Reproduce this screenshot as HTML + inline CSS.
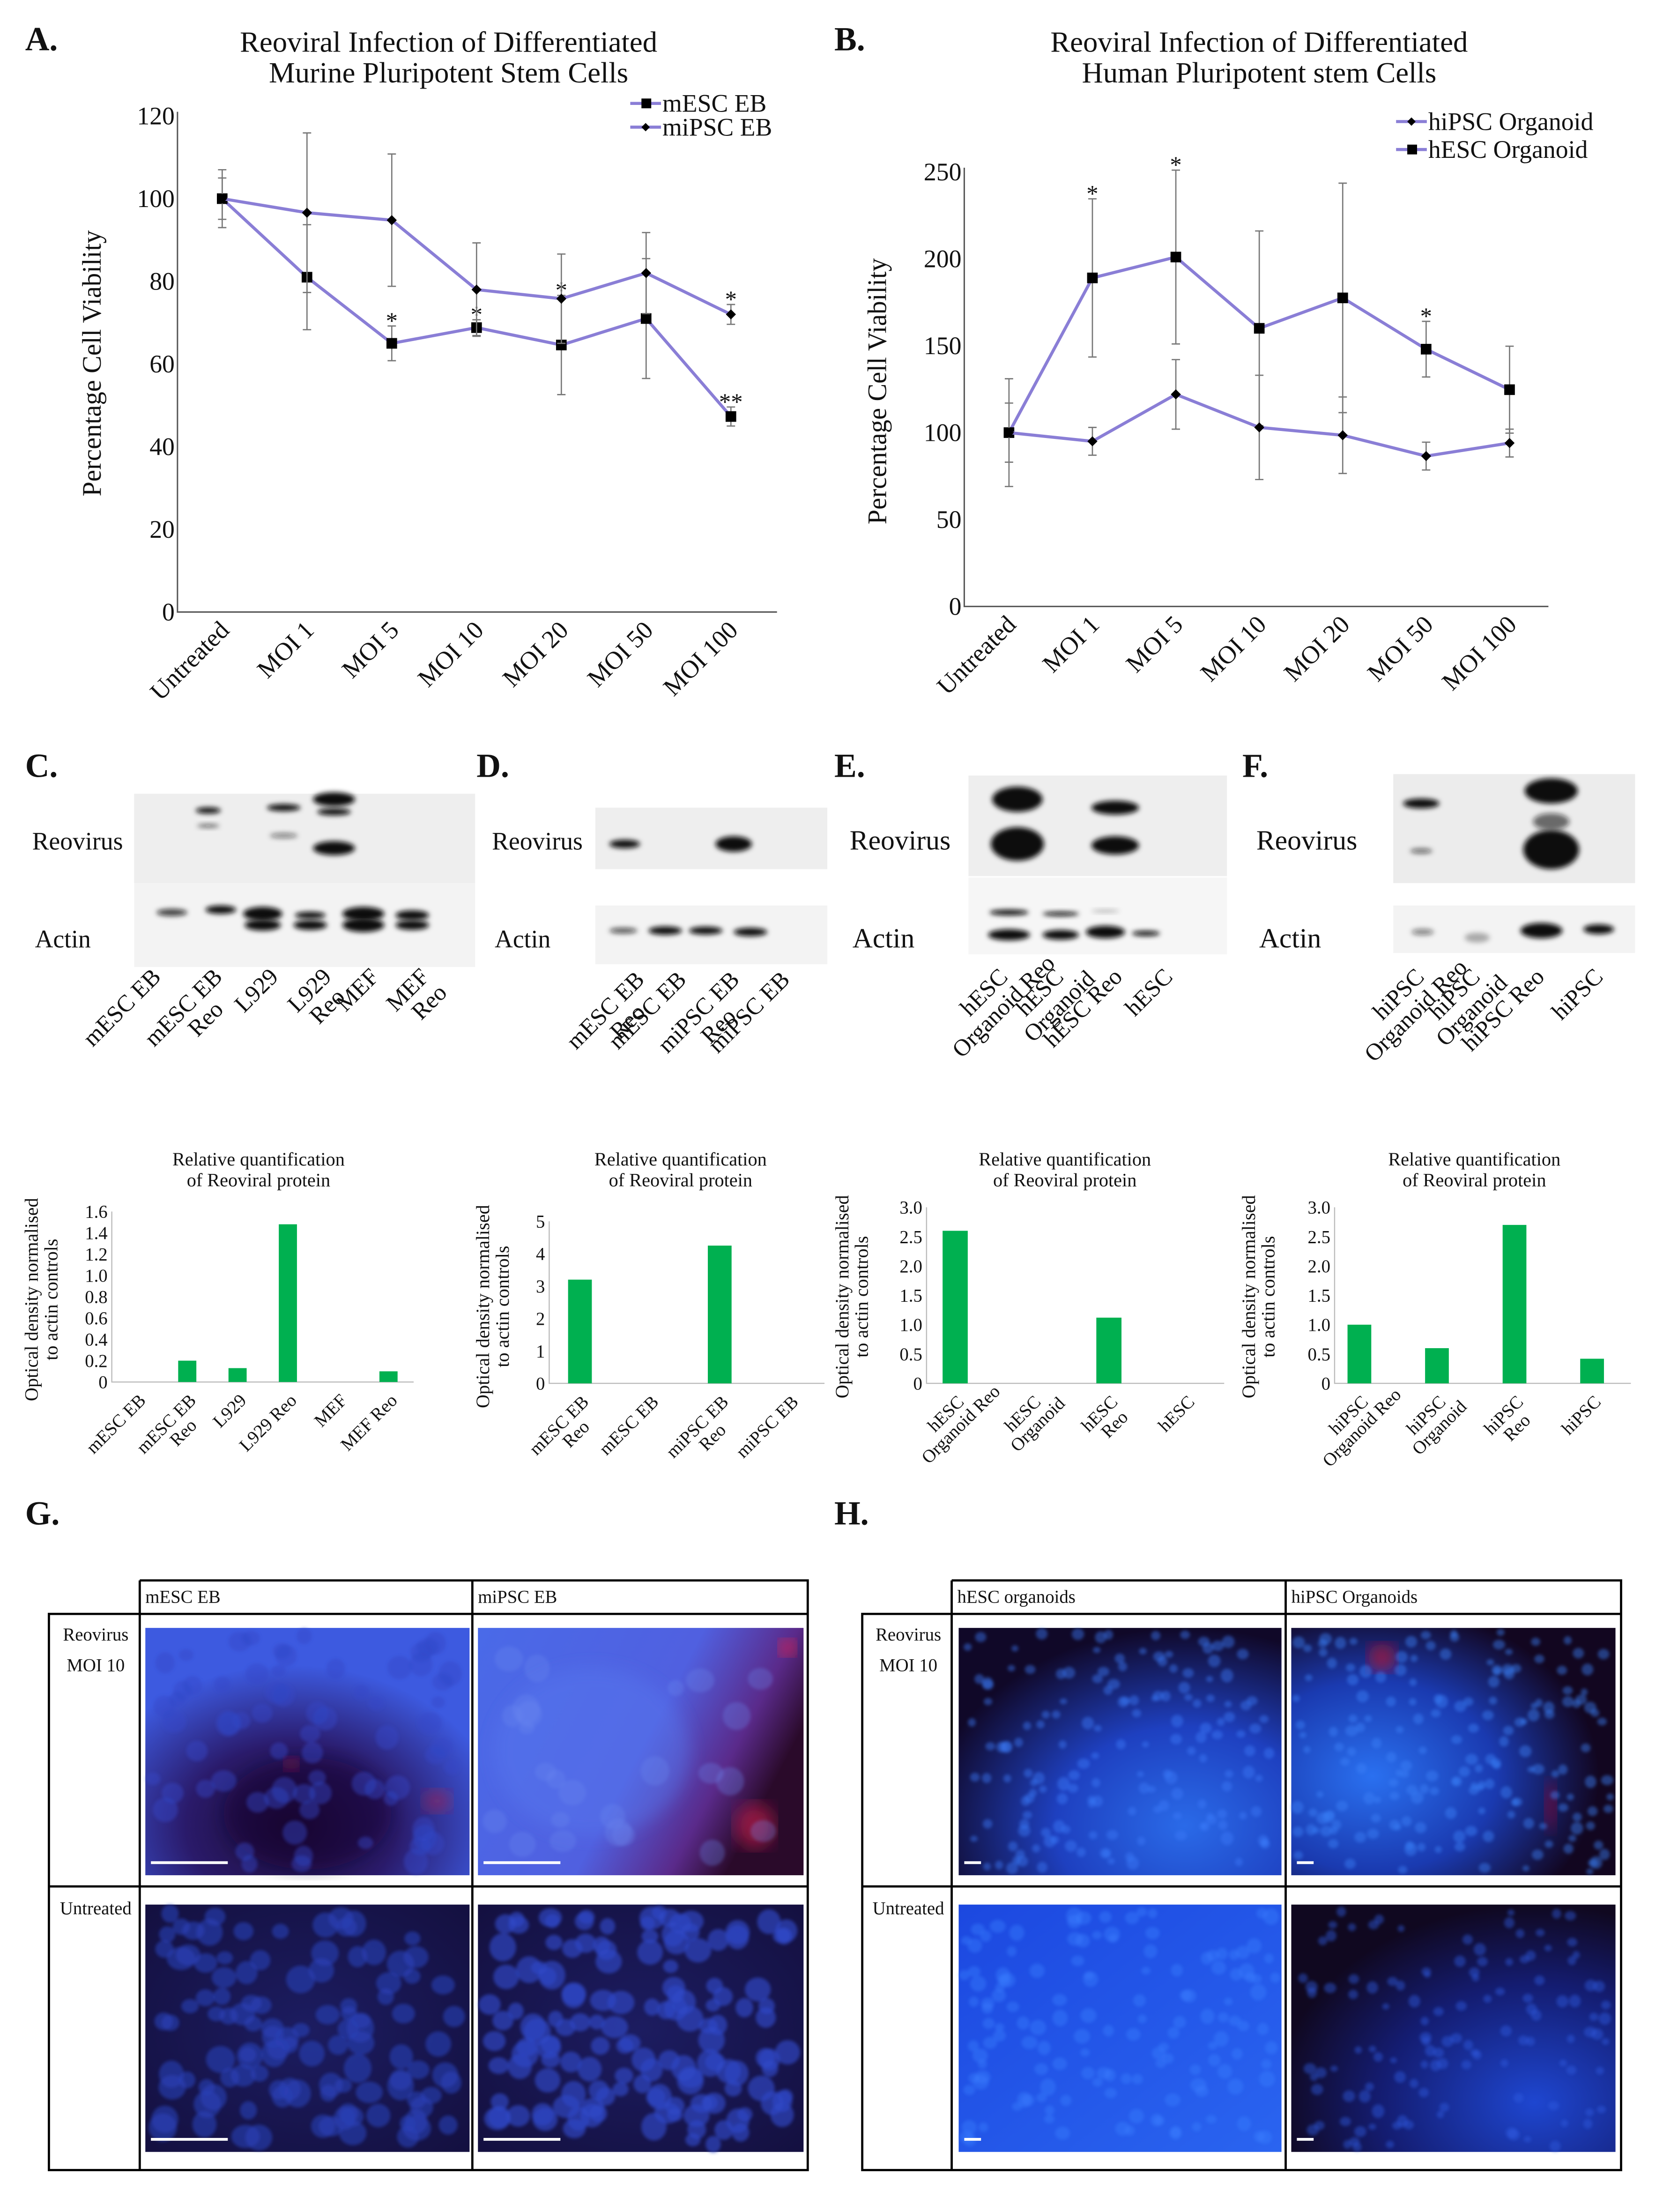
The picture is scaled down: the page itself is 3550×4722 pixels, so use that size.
<!DOCTYPE html>
<html><head><meta charset="utf-8"><style>
html,body{margin:0;padding:0;background:#fff}
svg{display:block}
text{font-family:"Liberation Serif",serif;fill:#111}
</style></head><body>
<svg id="fig" xmlns="http://www.w3.org/2000/svg" width="3550" height="4722" viewBox="0 0 1190 1583" preserveAspectRatio="none">
<defs>
<filter id="bl" x="-30%" y="-100%" width="160%" height="300%"><feGaussianBlur stdDeviation="1.8"/></filter>
<filter id="bl2"><feGaussianBlur stdDeviation="6"/></filter>
<filter id="bl3"><feGaussianBlur stdDeviation="1.2"/></filter>
<radialGradient id="g1" cx="0.45" cy="0.8" r="0.65"><stop offset="0" stop-color="#1a0a30"/><stop offset="0.5" stop-color="#2a1a6a"/><stop offset="1" stop-color="#3d5ae0"/></radialGradient>
<linearGradient id="g2" x1="0" y1="0" x2="1" y2="0.4"><stop offset="0" stop-color="#4a6ae8"/><stop offset="0.6" stop-color="#5060e0"/><stop offset="0.85" stop-color="#5a2a8a"/><stop offset="1" stop-color="#2a0a2a"/></linearGradient>
<radialGradient id="g3" cx="0.5" cy="0.5" r="0.7"><stop offset="0" stop-color="#1c1c60"/><stop offset="1" stop-color="#141040"/></radialGradient>
<radialGradient id="g4" cx="0.7" cy="0.8" r="0.8"><stop offset="0" stop-color="#2a6ae8"/><stop offset="0.5" stop-color="#1e40c0"/><stop offset="1" stop-color="#100828"/></radialGradient>
<radialGradient id="g5" cx="0.25" cy="0.6" r="0.7"><stop offset="0" stop-color="#2a70f0"/><stop offset="0.55" stop-color="#1a3ab0"/><stop offset="1" stop-color="#120620"/></radialGradient>
<linearGradient id="g6" x1="0" y1="0" x2="1" y2="1"><stop offset="0" stop-color="#1c48e0"/><stop offset="1" stop-color="#2a64f0"/></linearGradient>
<radialGradient id="g7" cx="0.75" cy="0.8" r="0.8"><stop offset="0" stop-color="#1e46d0"/><stop offset="0.6" stop-color="#141c70"/><stop offset="1" stop-color="#100820"/></radialGradient>
</defs>
<g id="root"></g>
</svg>
<script>
// ---------- data: panel A ----------
const catsA = ["Untreated","MOI 1","MOI 5","MOI 10","MOI 20","MOI 50","MOI 100"];
const mescVals = [100,81,65,68.8,64.6,71,47.3];
const mescErr = [7,12.7,4.2,1.9,12,14.5,2.3];
const mipscVals = [100,96.6,94.8,78,75.8,82,72];
const mipscErr = [5,19.3,16,11.3,10.8,9.8,2.4];
const mescStars = ["","","*","*","*","","**"];
const mipscStars = ["","","","","","","*"];
const yTicksA = [0,20,40,60,80,100,120];
// ---------- data: panel B ----------
const catsB = ["Untreated","MOI 1","MOI 5","MOI 10","MOI 20","MOI 50","MOI 100"];
const hescVals = [100,189,201,160,177.5,148,124.7];
const hescErr = [31,45.5,50,56,66,16,25];
const hipscVals = [100,95,122,103,98.5,86.5,94];
const hipscErr = [17,8,20,30,22,8,8];
const hescStars = ["","*","*","","","*",""];
const yTicksB = [0,50,100,150,200,250];
// ---------- data: bar charts ----------
const barCatsC = [["mESC EB"],["mESC EB","Reo"],["L929"],["L929 Reo"],["MEF"],["MEF Reo"]];
const barValsC = [0,0.2,0.13,1.48,0,0.1];
const barTicksC = ["0","0.2","0.4","0.6","0.8","1.0","1.2","1.4","1.6"];
const barCatsD = [["mESC EB","Reo"],["mESC EB"],["miPSC EB","Reo"],["miPSC EB"]];
const barValsD = [3.2,0,4.25,0];
const barTicksD = ["0","1","2","3","4","5"];
const barCatsE = [["hESC","Organoid Reo"],["hESC","Organoid"],["hESC","Reo"],["hESC"]];
const barValsE = [2.6,0,1.12,0];
const barTicksE = ["0","0.5","1.0","1.5","2.0","2.5","3.0"];
const barCatsF = [["hiPSC","Organoid Reo"],["hiPSC","Organoid"],["hiPSC","Reo"],["hiPSC"]];
const barValsF = [1.0,0.6,2.7,0.42];
const barTicksF = ["0","0.5","1.0","1.5","2.0","2.5","3.0"];

const NS="http://www.w3.org/2000/svg";
const root=document.getElementById('root');
function mk(tag,attrs,parent){const e=document.createElementNS(NS,tag);for(const k in attrs)e.setAttribute(k,attrs[k]);(parent||root).appendChild(e);return e;}
function txt(s,x,y,size,extra,parent){const t=mk('text',Object.assign({x:x,y:y,'font-size':size},extra||{}),parent);t.textContent=s;return t;}
// rotated multi-line label: first line ends at anchor, further lines centred under it
function rotLabel(lines,x,y,fs,lh,parent){
  const g=mk('g',{transform:`translate(${x} ${y}) rotate(-45)`},parent);
  
  
  const w0=lines[0].length*fs*0.5;
  lines.forEach((s,k)=>{
    if(k===0) txt(s,0,0,fs,{'text-anchor':'end'},g);
    else txt(s,-w0/2,k*lh,fs,{'text-anchor':'middle'},g);
  });
  return g;
}

// panel letters
[["A.",18,36],["B.",597,36],["C.",18,556],["D.",341,556],["E.",597,556],["F.",889,556],["G.",18,1091],["H.",597,1091]].forEach(p=>{
  const t=txt(p[0],p[1],p[2],24,{'font-weight':'bold'});
  
  
});

const LINE="#8a7ed6";
function lineChart(o){
  const g=mk('g',{});
  
  
  const xs=i=>o.x0+i*o.dx;
  const ys=v=>o.yb-(v/o.ymax)*(o.yb-o.yt);
  o.title.forEach((s,i)=>{const t=txt(s,o.tcx,o.ty+i*22,21,{'text-anchor':'middle'},g);
    
    });
  const ax=mk('path',{d:`M${o.ax} ${ys(o.ymax)-3} V${o.yb} H${o.axEnd}`,stroke:'#555',fill:'none','stroke-width':1},g);
  
  
  o.yticks.forEach(v=>{const t=txt(String(v),o.ax-2,ys(v)+6,18,{'text-anchor':'end'},g);
    
    });
  o.cats.forEach((c,i)=>{const x=xs(i)+6,y=o.yb+14;
    const t=txt(c,x,y,18,{'text-anchor':'end',transform:`rotate(-45 ${x} ${y})`},g);
    
    });
  const yt=txt("Percentage Cell Viability",0,0,19,{'text-anchor':'middle',transform:`translate(${o.ytx} ${o.yty}) rotate(-90)`},g);
  
  
  o.series.forEach(s=>{
    s.vals.forEach((v,i)=>{const e=s.err[i];
      const eb=mk('path',{d:`M${xs(i)} ${ys(v+e)} V${ys(v-e)} M${xs(i)-3} ${ys(v+e)} H${xs(i)+3} M${xs(i)-3} ${ys(v-e)} H${xs(i)+3}`,stroke:'#777','stroke-width':0.9,fill:'none'},g);
      
      });
    const pts=s.vals.map((v,i)=>xs(i)+','+ys(v)).join(' ');
    const pl=mk('polyline',{points:pts,fill:'none',stroke:LINE,'stroke-width':2.2},g);
    
    
    s.vals.forEach((v,i)=>{let m;
      if(s.marker==='sq') m=mk('rect',{x:xs(i)-3.8,y:ys(v)-3.8,width:7.6,height:7.6,fill:'#000'},g);
      else m=mk('path',{d:`M${xs(i)} ${ys(v)-3.6} L${xs(i)+3.6} ${ys(v)} L${xs(i)} ${ys(v)+3.6} L${xs(i)-3.6} ${ys(v)} Z`,fill:'#000'},g);
      
      
      if(s.stars&&s.stars[i]){const st=txt(s.stars[i],xs(i),ys(v+s.err[i])+2,17,{'text-anchor':'middle'},g);
        
        }
    });
  });
  o.legend.forEach((l,i)=>{const y=o.ly+i*o.lh;
    const lg=mk('g',{},g);
    
    
    mk('line',{x1:o.lx,y1:y,x2:o.lx+22,y2:y,stroke:LINE,'stroke-width':2.2},lg);
    if(l.marker==='sq') mk('rect',{x:o.lx+8,y:y-3.5,width:7,height:7,fill:'#000'},lg);
    else mk('path',{d:`M${o.lx+11} ${y-3} l3 3 l-3 3 l-3 -3z`,fill:'#000'},lg);
    txt(l.label,o.lx+23,y+6,18,{},lg);
  });
}
lineChart({name:'chart-a',title:["Reoviral Infection of Differentiated","Murine Pluripotent Stem Cells"],tcx:321,ty:37,
  x0:159,dx:60.67,yb:438,yt:83,ymax:120,ax:127,axEnd:556,yticks:yTicksA,cats:catsA,ytx:72,yty:260,
  series:[{key:'mesc-eb',vals:mescVals,err:mescErr,marker:'sq',stars:mescStars},{key:'mipsc-eb',vals:mipscVals,err:mipscErr,marker:'dm',stars:mipscStars}],
  legend:[{label:'mESC EB',marker:'sq'},{label:'miPSC EB',marker:'dm'}],lx:451,ly:74,lh:17});
lineChart({name:'chart-b',title:["Reoviral Infection of Differentiated","Human Pluripotent stem Cells"],tcx:901,ty:37,
  x0:722,dx:59.7,yb:434,yt:123,ymax:250,ax:690,axEnd:1108,yticks:yTicksB,cats:catsB,ytx:634,yty:280,
  series:[{key:'hesc-organoid',vals:hescVals,err:hescErr,marker:'sq',stars:hescStars},{key:'hipsc-organoid',vals:hipscVals,err:hipscErr,marker:'dm'}],
  legend:[{label:'hiPSC Organoid',marker:'dm'},{label:'hESC Organoid',marker:'sq'}],lx:999,ly:87,lh:20});

// ---------- western blots ----------
function blot(o){
  const g=mk('g',{});
  
  
  mk('rect',{x:o.x,y:o.ry,width:o.w,height:o.rh,fill:o.rbg||'#eeeeee'},g);
  mk('rect',{x:o.x,y:o.ay,width:o.w,height:o.ah,fill:o.abg||'#f3f3f3'},g);
  o.bands.forEach(b=>{const e=mk('ellipse',{cx:b[0],cy:b[1],rx:b[2],ry:b[3],fill:'#111','fill-opacity':b[4]||1,filter:'url(#bl)'},g);
    
    });
  const r=txt("Reovirus",o.lx,o.ly1,o.fs,{},g);
  
  
  const a=txt("Actin",o.lx+2,o.ly2,o.fs,{},g);
  
  
  o.lanes.forEach(l=>rotLabel(l[2],l[0],l[1],17,17,g));
}
blot({name:'blot-c',x:96,w:244,ry:568,rh:64,ay:632,ah:60,lx:23,ly1:608,ly2:678,fs:18,
  bands:[[149,580,9,2.2],[149,591,8,1.3,0.6],[203,578,12,2.5],[203,598,10,1.8,0.5],[239,572,15,5],[239,581,12,2.5],[239,607,15,5],[123,653,11,2.5,0.8],[158,651,11,3],[188,654,14,5],[188,662,13,4],[222,655,11,2.5],[222,662,12,3.5],[260,654,15,5],[260,662,15,5],[295,655,12,3.5],[295,662,12,3.5]],
  lanes:[[116,700,["mESC EB"]],[160,700,["mESC EB","Reo"]],[200,700,["L929"]],[238,700,["L929","Reo"]],[272,700,["MEF"]],[308,700,["MEF","Reo"]]]});
blot({name:'blot-d',x:426,w:166,ry:578,rh:44,ay:648,ah:42,lx:352,ly1:608,ly2:678,fs:18,
  bands:[[447,604,11,3],[525,604,13,5.5],[446,666,10,2,0.7],[476,666,12,3],[505,666,12,2.8],[537,667,12,3]],
  lanes:[[462,702,["mESC EB","Reo"]],[492,702,["mESC EB"]],[530,702,["miPSC EB","Reo"]],[566,702,["miPSC EB"]]]});
blot({name:'blot-e',x:693,w:185,ry:555,rh:72,ay:628,ah:55,lx:608,ly1:608,ly2:678,fs:20,abg:'#f6f6f6',
  bands:[[728,572,18,9],[728,604,19,12],[798,578,17,5],[798,605,17,6.5],[722,653,14,2],[722,669,15,4],[759,654,13,1.5],[759,669,13,3.5],[791,652,10,1,0.3],[791,667,14,4.5],[820,668,10,1.8]],
  lanes:[[722,700,["hESC","Organoid Reo"]],[762,700,["hESC","Organoid"]],[804,700,["hESC Reo"]],[840,700,["hESC"]]]});
blot({name:'blot-f',x:997,w:173,ry:554,rh:78,ay:648,ah:34,lx:899,ly1:608,ly2:678,fs:20,rbg:'#ececec',
  bands:[[1017,575,13,3.5],[1017,609,8,1.8,0.6],[1110,566,19,9],[1110,608,20,14],[1110,588,13,6,0.6],[1018,667,8,2.2,0.5],[1057,671,9,3.5,0.3],[1103,666,15,5.5],[1144,665,11,3.5]],
  lanes:[[1020,700,["hiPSC","Organoid Reo"]],[1060,700,["hiPSC","Organoid"]],[1106,700,["hiPSC Reo"]],[1148,700,["hiPSC"]]]});

// ---------- bar charts ----------
function barChart(o){
  const g=mk('g',{});
  
  
  const n=o.cats.length,band=(o.x1-o.x0)/n;
  const xc=i=>o.x0+band*(i+0.5);
  const ys=v=>o.yb-(v/o.max)*(o.yb-o.yt);
  ["Relative quantification","of Reoviral protein"].forEach((s,i)=>{const t=txt(s,o.tcx,834+i*15,13.5,{'text-anchor':'middle'},g);
    
    });
  const ax=mk('path',{d:`M${o.ax} ${o.yt} V${o.yb} H${o.x1}`,stroke:'#bbb',fill:'none','stroke-width':0.8},g);
  
  
  o.ticks.forEach((s,i)=>{const v=o.max*i/(o.ticks.length-1);
    const t=txt(s,o.ax-3,ys(v)+4.5,13,{'text-anchor':'end'},g);
    
    });
  o.vals.forEach((v,i)=>{if(v<=0)return;
    const r=mk('rect',{x:xc(i)-o.bw/2,y:ys(v),width:o.bw,height:o.yb-ys(v),fill:'#00b050'},g);
    
    });
  o.cats.forEach((c,i)=>rotLabel(c,xc(i)+7,o.yb+14,13,13,g));
  const yt=mk('text',{'font-size':13.5,'text-anchor':'middle',transform:`translate(${o.ytx} ${o.yty}) rotate(-90)`},g);
  
  
  ["Optical density normalised","to actin controls"].forEach((s,k)=>{const ts=mk('tspan',{x:0,dy:k?14:0},yt);ts.textContent=s;});
}
barChart({name:'bar-chart-c',cats:barCatsC,vals:barValsC,ticks:barTicksC,max:1.6,x0:80,x1:296,ax:80,yb:989,yt:867,bw:13,tcx:185,ytx:27,yty:930});
barChart({name:'bar-chart-d',cats:barCatsD,vals:barValsD,ticks:barTicksD,max:5,x0:390,x1:590,ax:393,yb:990,yt:874,bw:17,tcx:487,ytx:350,yty:935});
barChart({name:'bar-chart-e',cats:barCatsE,vals:barValsE,ticks:barTicksE,max:3,x0:656,x1:876,ax:663,yb:990,yt:864,bw:18,tcx:762,ytx:607,yty:928});
barChart({name:'bar-chart-f',cats:barCatsF,vals:barValsF,ticks:barTicksF,max:3,x0:945,x1:1167,ax:955,yb:990,yt:864,bw:17,tcx:1055,ytx:898,yty:928});

// ---------- microscopy grids ----------
let seed=7;
function rnd(){seed=(seed*16807)%2147483647;return seed/2147483647;}
function grid(o){
  const g=mk('g',{});
  
  
  const s={stroke:'#000','stroke-width':1.6,fill:'none'};
  mk('path',Object.assign({d:`M${o.c1} 1131 H${o.c3} V1553 H${o.c0} V1155 H${o.c3} M${o.c1} 1131 V1553 M${o.c2} 1131 V1553 M${o.c0} 1350 H${o.c3}`},s),g);
  o.heads.forEach((h,i)=>{const t=txt(h,[o.c1,o.c2][i]+4,1147,13,{},g);
    
    });
  const r1=mk('text',{'font-size':13,'text-anchor':'middle'},g);
  
  
  ["Reovirus","MOI 10"].forEach((s2,k)=>{const ts=mk('tspan',{x:(o.c0+o.c1)/2+1,y:1174+k*22},r1);ts.textContent=s2;});
  const r2=txt("Untreated",(o.c0+o.c1)/2+1,1370,13,{'text-anchor':'middle'},g);
  
  
  o.imgs.forEach(im=>{
    const ig=mk('g',{},g);
    
    
    mk('rect',{x:im.x,y:im.y,width:im.w,height:177,fill:`url(#${im.fill})`},ig);
    (im.blobs||[]).forEach(b=>mk('ellipse',{cx:im.x+b[0]*im.w,cy:im.y+b[1]*177,rx:b[2],ry:b[3],fill:b[4],'fill-opacity':b[5]||0.7,filter:'url(#bl2)'},ig));
    if(im.cells){const cg=mk('g',{filter:'url(#bl3)'},ig);
      for(let k=0;k<im.cells[0];k++){const r=im.cells[1]*(0.7+0.6*rnd());
        mk('ellipse',{cx:im.x+r+rnd()*(im.w-2*r),cy:im.y+r+rnd()*(177-2*r),rx:r,ry:r*(0.8+0.3*rnd()),fill:im.cells[2],'fill-opacity':im.cells[3]},cg);}}
    mk('rect',{x:im.x+4,y:im.y+167,width:im.sb,height:2,fill:'#fff'},ig);
  });
}
grid({name:'microscopy-grid-g',c0:35,c1:100,c2:338,c3:578,heads:["mESC EB","miPSC EB"],imgs:[
  {name:'image-mesc-reo',x:104,y:1165,w:232,fill:'g1',sb:55,cells:[70,7,'#3048c8',0.45],blobs:[[0.5,0.75,60,40,'#1a0830',0.5],[0.9,0.7,10,8,'#c02040',0.5],[0.45,0.55,5,5,'#d02040',0.6]]},
  {name:'image-mipsc-reo',x:342,y:1165,w:233,fill:'g2',sb:55,cells:[25,8,'#6a88f0',0.3],blobs:[[0.95,0.08,6,6,'#ff2040',0.8],[0.85,0.8,14,16,'#d02050',0.6],[0.35,0.5,70,60,'#5a7af0',0.4]]},
  {name:'image-mesc-untreated',x:104,y:1363,w:232,fill:'g3',sb:55,cells:[110,8,'#2a40b8',0.6]},
  {name:'image-mipsc-untreated',x:342,y:1363,w:233,fill:'g3',sb:55,cells:[140,7.5,'#2e48c8',0.65]}]});
grid({name:'microscopy-grid-h',c0:617,c1:681,c2:920,c3:1160,heads:["hESC organoids","hiPSC Organoids"],imgs:[
  {name:'image-hesc-reo',x:686,y:1165,w:231,fill:'g4',sb:12,cells:[160,3.5,'#3a7af8',0.45]},
  {name:'image-hipsc-reo',x:924,y:1165,w:232,fill:'g5',sb:12,cells:[180,3.5,'#3a80f8',0.45],blobs:[[0.28,0.12,10,10,'#c01030',0.7],[0.8,0.72,4,18,'#a01030',0.7]]},
  {name:'image-hesc-untreated',x:686,y:1363,w:231,fill:'g6',sb:12,cells:[140,4.5,'#3a80ff',0.4]},
  {name:'image-hipsc-untreated',x:924,y:1363,w:232,fill:'g7',sb:12,cells:[120,3.5,'#2e5ae0',0.45]}]});
</script>
</body></html>
